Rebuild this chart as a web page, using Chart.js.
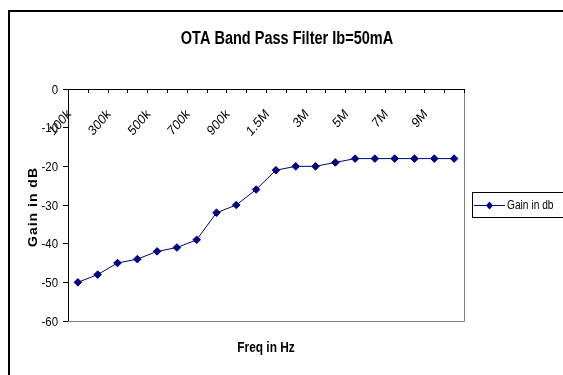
<!DOCTYPE html>
<html lang="en">
<head>
    <meta charset="UTF-8">
    <title>OTA Band Pass Filter</title>
    <script src="https://cdn.jsdelivr.net/npm/chart.js"></script>
    <style>
        body {
            margin: 0;
            background: #ffffff;
        }
        #wrap {
            width: 563px;
            height: 375px;
        }
    </style>
</head>
<body>
    <div id="wrap"><canvas id="otaChart"></canvas></div>

    <script>
        // Frequencies (categories) and measured gain
        const freqLabels = ['100k', '200k', '300k', '400k', '500k', '600k', '700k', '800k', '900k', '1M',
                            '1.5M', '2M', '3M', '4M', '5M', '6M', '7M', '8M', '9M', '10M'];
        const gainDb = [-50, -48, -45, -44, -42, -41, -39, -32, -30, -26,
                        -21, -20, -20, -19, -18, -18, -18, -18, -18, -18];
        // only every other category gets a label, like the original
        const shownLabels = ['100k', '300k', '500k', '700k', '900k', '1.5M', '3M', '5M', '7M', '9M'];
        const yTicks = [0, -10, -20, -30, -40, -50, -60];

        const chartTitle = 'OTA Band Pass Filter Ib=50mA';
        const xTitle = 'Freq in Hz';
        const yTitle = 'Gain in dB';

        const navy = '#000080';
        const font = '"Liberation Sans", Arial, sans-serif';
        const squeeze = 0.85; // the original picture looks squashed sideways

        // text drawn a bit narrower than normal, to look like the Excel export
        function narrowText(ctx, text, x, y, size, bold, sx, align) {
            ctx.save();
            ctx.translate(x, y);
            ctx.scale(sx, 1);
            ctx.font = (bold ? 'bold ' : '') + size + 'px ' + font;
            ctx.textAlign = align || 'center';
            ctx.fillText(text, 0, 0);
            ctx.restore();
        }

        // draws the frame, titles, axis labels and the boxed legend
        const extras = {
            id: 'extras',
            afterDraw(chart) {
                const ctx = chart.ctx;
                const area = chart.chartArea;
                const xs = chart.scales.x;
                const ys = chart.scales.y;
                ctx.save();

                // outer frame (runs off the right and bottom edge)
                ctx.strokeStyle = '#000';
                ctx.lineWidth = 2;
                ctx.strokeRect(9, 11, 600, 400);

                // plot area right/bottom border
                ctx.strokeStyle = '#808080';
                ctx.lineWidth = 1;
                ctx.beginPath();
                ctx.moveTo(area.right + 0.5, area.top);
                ctx.lineTo(area.right + 0.5, area.bottom + 0.5);
                ctx.lineTo(area.left, area.bottom + 0.5);
                ctx.stroke();

                // category axis along the top (y = 0)
                ctx.strokeStyle = '#000';
                ctx.beginPath();
                ctx.moveTo(area.left, area.top + 0.5);
                ctx.lineTo(area.right, area.top + 0.5);
                const step = xs.getPixelForValue(1) - xs.getPixelForValue(0);
                for (let i = 0; i <= freqLabels.length; i++) {
                    const px = Math.round(xs.getPixelForValue(i) - step / 2) + 0.5;
                    ctx.moveTo(px, area.top);
                    ctx.lineTo(px, area.top + 4);
                }
                ctx.stroke();

                ctx.fillStyle = '#000';
                ctx.textBaseline = 'middle';

                // y tick labels
                yTicks.forEach(v => {
                    narrowText(ctx, String(v), area.left - 10, ys.getPixelForValue(v) + 1, 13, false, 0.88, 'right');
                });

                // rotated category labels
                ctx.font = '14px ' + font;
                ctx.textAlign = 'right';
                freqLabels.forEach((lab, i) => {
                    if (!shownLabels.includes(lab)) return;
                    const px = xs.getPixelForValue(i);
                    ctx.save();
                    ctx.translate(px - 8.5, area.top + 23);
                    ctx.scale(squeeze, 1);
                    ctx.rotate(-Math.PI / 4);
                    ctx.fillText(lab, 0, 0);
                    ctx.restore();
                });

                // chart title and x axis title
                ctx.textBaseline = 'alphabetic';
                narrowText(ctx, chartTitle, 287, 44, 17.5, true, 0.83);
                narrowText(ctx, xTitle, (area.left + area.right) / 2, 352, 14, true, squeeze);

                // y axis title
                ctx.save();
                ctx.translate(37, (area.top + area.bottom) / 2 + 2);
                ctx.rotate(-Math.PI / 2);
                ctx.scale(1, squeeze);
                ctx.font = 'bold 14px ' + font;
                ctx.textAlign = 'center';
                ctx.letterSpacing = '1px';
                ctx.fillText(yTitle, 0, 0);
                ctx.restore();

                // legend box
                const ds = chart.data.datasets[0];
                ctx.strokeStyle = '#000';
                ctx.strokeRect(472.5, 192.5, 120, 25);
                ctx.strokeStyle = navy;
                ctx.beginPath();
                ctx.moveTo(474, 205.5);
                ctx.lineTo(505, 205.5);
                ctx.stroke();
                ctx.fillStyle = navy;
                ctx.beginPath();
                ctx.moveTo(489.5, 201.5);
                ctx.lineTo(493, 205.5);
                ctx.lineTo(489.5, 209.5);
                ctx.lineTo(486, 205.5);
                ctx.closePath();
                ctx.fill();
                ctx.fillStyle = '#000';
                ctx.textBaseline = 'middle';
                narrowText(ctx, ds.label, 507, 205.5, 12, false, squeeze, 'left');

                ctx.restore();
            }
        };

        const ctx = document.getElementById('otaChart').getContext('2d');
        new Chart(ctx, {
            type: 'line',
            data: {
                labels: freqLabels,
                datasets: [{
                    label: 'Gain in db',
                    data: gainDb,
                    borderColor: navy,
                    backgroundColor: navy,
                    borderWidth: 1,
                    pointStyle: 'rectRot',
                    pointRadius: 3.8,
                    pointBackgroundColor: navy,
                    pointBorderColor: navy,
                    tension: 0
                }]
            },
            options: {
                responsive: true,
                maintainAspectRatio: false,
                animation: false,
                layout: {
                    padding: { left: 8, top: 89, right: 99, bottom: 54 }
                },
                scales: {
                    x: {
                        type: 'category',
                        offset: true,
                        display: false
                    },
                    y: {
                        min: -60,
                        max: 0,
                        afterFit(scale) { scale.width = 60; },
                        afterBuildTicks(scale) {
                            scale.ticks = yTicks.map(v => ({ value: v }));
                        },
                        ticks: { display: false },
                        grid: {
                            drawOnChartArea: false,
                            tickLength: 5,
                            color: '#000'
                        },
                        border: { color: '#000' }
                    }
                },
                plugins: {
                    legend: { display: false },
                    tooltip: { enabled: false }
                }
            },
            plugins: [extras]
        });
    </script>
</body>
</html>
